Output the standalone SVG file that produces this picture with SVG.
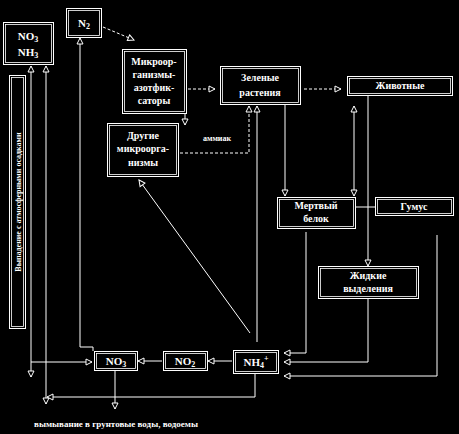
<svg xmlns="http://www.w3.org/2000/svg" width="459" height="434" viewBox="0 0 459 434">
<defs>
<marker id="a" markerWidth="8" markerHeight="8" refX="7" refY="4" orient="auto" markerUnits="userSpaceOnUse">
<path d="M1,1 L7,4 L1,7 z" fill="#000" stroke="#fff" stroke-width="1"/>
</marker>
<marker id="s" markerWidth="8" markerHeight="8" refX="1" refY="4" orient="auto" markerUnits="userSpaceOnUse">
<path d="M7,1 L1,4 L7,7 z" fill="#000" stroke="#fff" stroke-width="1"/>
</marker>
</defs>
<style>
.o{fill:none;stroke:#fff;stroke-width:1}
.i{fill:none;stroke:#fff;stroke-width:0.8}
.t{fill:#fff;font-family:"Liberation Serif","DejaVu Serif",serif;font-size:10px;text-anchor:middle;font-weight:bold}
.f{font-size:11px}
.c{fill:none;stroke:#fff;stroke-width:1}
.d{stroke-dasharray:3,2}
.e{marker-end:url(#a)}
.st{marker-start:url(#s)}
</style>
<rect width="459" height="434" fill="#000"/>

<g id="connectors">
<path class="c d e" d="M103,27 L134,40"/>
<path class="c d e" d="M188,89 H215"/>
<path class="c d e" d="M304,89 H341"/>
<path class="c e" d="M185,113 V125"/>
<path class="c d e" d="M180,153 H249 V106"/>
<path class="c e" d="M257,342 V106"/>
<path class="c e" d="M250,333 L139,180"/>
<path class="c e" d="M285,104 V196"/>
<path class="c e st" d="M354,106 V196"/>
<path class="c e" d="M368,96 V266"/>
<path class="c" d="M355,207 H375"/>
<path class="c e" d="M306,232 V353 H284"/>
<path class="c e" d="M368,299 V362 H284"/>
<path class="c e" d="M437,235 V376 H284"/>
<path class="c e" d="M232,361 H208"/>
<path class="c e" d="M162,361 H138"/>
<path class="c e" d="M93,351 V347 H80 V38"/>
<path class="c e st" d="M31,377 V66"/>
<path class="c e" d="M31,362 H92"/>
<path class="c e st" d="M46,404 V66"/>
<path class="c e" d="M255,374 V397 H47"/>
<path class="c e" d="M115,370 V409"/>
</g>

<g id="atm">
<rect class="o" x="3.5" y="22.5" width="50" height="42"/>
<rect class="i" x="5.5" y="24.5" width="46" height="38"/>
<text class="t f" x="28" y="40">NO<tspan font-size="8" dy="2">3</tspan></text>
<text class="t f" x="28" y="56">NH<tspan font-size="8" dy="2">3</tspan></text>
</g>
<g id="n2">
<rect class="o" x="66.5" y="8.5" width="35" height="29"/>
<rect class="i" x="68.5" y="10.5" width="31" height="25"/>
<text class="t f" x="84" y="27">N<tspan font-size="8" dy="2">2</tspan></text>
</g>
<g id="rain">
<rect class="o" x="9.5" y="75.5" width="16" height="253"/>
<rect class="i" x="11.5" y="77.5" width="12" height="249"/>
<text class="t" transform="translate(21,202) rotate(-90)" style="font-size:8px">Выпадение с атмосферными осадками</text>
</g>
<g id="fix">
<rect class="o" x="122.5" y="49.5" width="64" height="64"/>
<rect class="i" x="124.5" y="51.5" width="60" height="60"/>
<text class="t" x="154" y="65">Микроор-</text>
<text class="t" x="154" y="78">ганизмы-</text>
<text class="t" x="154" y="91">азотфик-</text>
<text class="t" x="154" y="104">саторы</text>
</g>
<g id="plants">
<rect class="o" x="220.5" y="66.5" width="80" height="38"/>
<rect class="i" x="222.5" y="68.5" width="76" height="34"/>
<text class="t" x="260" y="81">Зеленые</text>
<text class="t" x="260" y="96">растения</text>
</g>
<g id="animals">
<rect class="o" x="347.5" y="76.5" width="105" height="19"/>
<rect class="i" x="349.5" y="78.5" width="101" height="15"/>
<text class="t" x="400" y="89">Животные</text>
</g>
<g id="other">
<rect class="o" x="107.5" y="123.5" width="71" height="53"/>
<rect class="i" x="109.5" y="125.5" width="67" height="49"/>
<text class="t" x="143" y="139">Другие</text>
<text class="t" x="143" y="152">микроорга-</text>
<text class="t" x="143" y="166">низмы</text>
</g>
<text class="t" x="217" y="141" style="font-size:8px">аммиак</text>
<g id="dead">
<rect class="o" x="277.5" y="197.5" width="78" height="31"/>
<rect class="i" x="279.5" y="199.5" width="74" height="27"/>
<text class="t" x="316" y="209">Мертвый</text>
<text class="t" x="316" y="222">белок</text>
</g>
<g id="humus">
<rect class="o" x="375.5" y="197.5" width="78" height="18"/>
<rect class="i" x="377.5" y="199.5" width="74" height="14"/>
<text class="t" x="414" y="210">Гумус</text>
</g>
<g id="excr">
<rect class="o" x="318.5" y="266.5" width="100" height="32"/>
<rect class="i" x="320.5" y="268.5" width="96" height="28"/>
<text class="t" x="368" y="279">Жидкие</text>
<text class="t" x="368" y="292">выделения</text>
</g>
<g id="no3">
<rect class="o" x="94.5" y="351.5" width="43" height="19"/>
<rect class="i" x="96.5" y="353.5" width="39" height="15"/>
<text class="t f" x="116" y="365">NO<tspan font-size="8" dy="2">3</tspan></text>
</g>
<g id="no2">
<rect class="o" x="163.5" y="351.5" width="44" height="19"/>
<rect class="i" x="165.5" y="353.5" width="40" height="15"/>
<text class="t f" x="185" y="365">NO<tspan font-size="8" dy="2">2</tspan></text>
</g>
<g id="nh4">
<rect class="o" x="233.5" y="350.5" width="45" height="23"/>
<rect class="i" x="235.5" y="352.5" width="41" height="19"/>
<text class="t f" x="256" y="366">NH<tspan font-size="8" dy="2">4</tspan><tspan font-size="8" dy="-7">+</tspan></text>
</g>
<text class="t" x="116" y="427" style="font-size:9px">вымывание в грунтовые воды, водоемы</text>
</svg>
